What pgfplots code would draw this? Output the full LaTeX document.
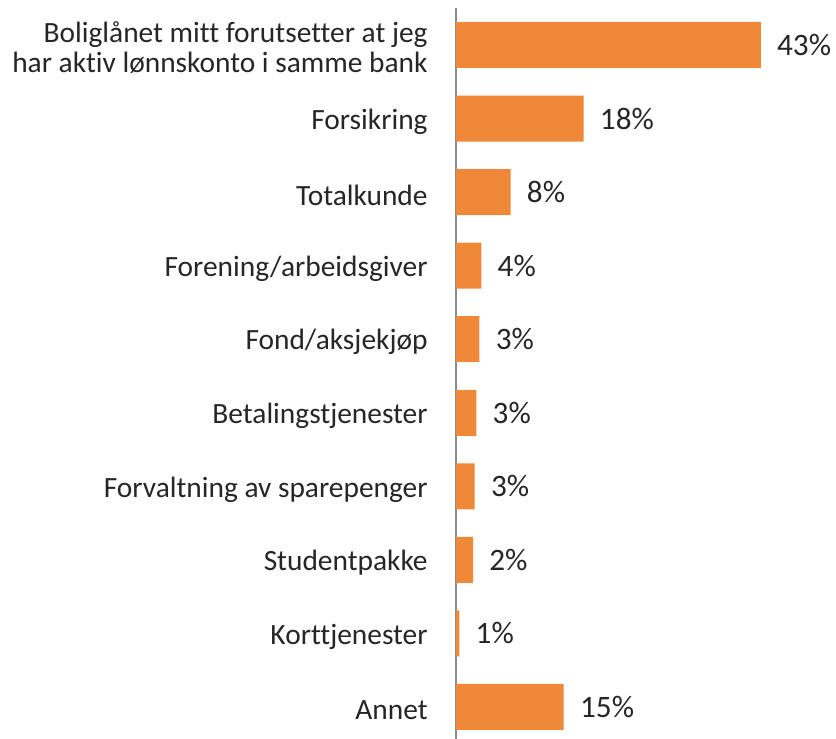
\documentclass[border=0pt]{standalone}
\usepackage{pgfplots}
\pgfplotsset{compat=1.18}
\usepackage{fontspec}
\setmainfont{Carlito}[Ligatures=NoCommon]
\definecolor{barc}{HTML}{F0883A}
\definecolor{txtc}{HTML}{262626}
\definecolor{axc}{HTML}{8C8C8C}
\begin{document}
\begin{tikzpicture}
\path[use as bounding box] (-228pt,0pt) rectangle (190pt,369.5pt);
\begin{axis}[
  at={(0,0)}, anchor=south west,
  scale only axis,
  width=177.2pt, height=365.5pt,
  xbar, bar width=23pt,
  xmin=0, xmax=50,
  ymin=-0.435, ymax=9.503,
  axis x line=none,
  axis y line*=left,
  y axis line style={draw=axc, line width=1pt, -},
  ytick={0,...,9},
  yticklabels={Annet,Korttjenester,Studentpakke,Forvaltning av sparepenger,Betalingstjenester,Fond/aksjekjøp,Forening/arbeidsgiver,Totalkunde,Forsikring,{Boliglånet mitt forutsetter at jeg\\har aktiv lønnskonto i samme bank}},
  major tick length=0pt,
  yticklabel style={font=\fontsize{14.7}{15}\selectfont, text=txtc, align=right, inner sep=0pt, xshift=-14pt, yshift=-1.5pt},
  nodes near coords,
  point meta=explicit symbolic,
  nodes near coords style={font=\fontsize{15.6}{17}\selectfont, text=txtc, anchor=west, inner sep=0pt, xshift=8pt},
]
\addplot[fill=barc, draw=none] table[meta=label] {
x y label
15.2 0 15\%
0.47 1 1\%
2.4 2 2\%
2.63 3 3\%
2.87 4 3\%
3.3 5 3\%
3.57 6 4\%
7.7 7 8\%
18 8 18\%
43 9 43\%
};
\end{axis}
\end{tikzpicture}
\end{document}
